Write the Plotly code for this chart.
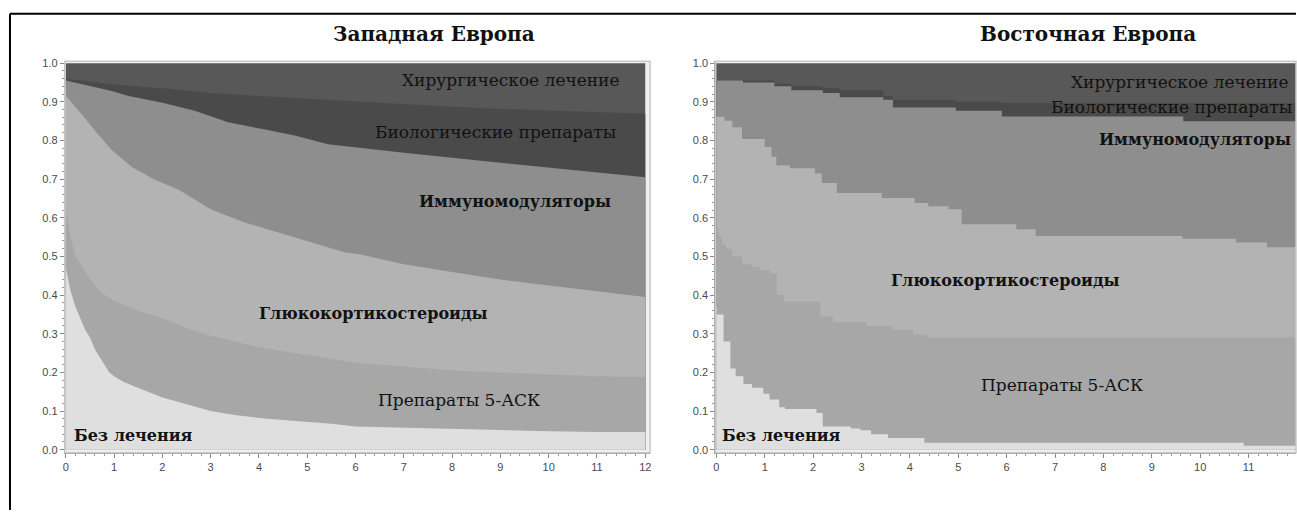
import plotly.graph_objects as go

W, H = 1297, 513

# ---------------- data: upper boundary of each stacked layer (cumulative proportion) -------------
# Western Europe
west_surgery_t = [0, 12]
west_surgery_top = [1.0, 1.0]
west_bio_t = [0, 1, 2, 3, 4, 5, 6, 7, 8, 9, 10, 11, 12]
west_bio_top = [0.96, 0.945, 0.935, 0.923, 0.915, 0.908, 0.9, 0.893, 0.887, 0.882, 0.877, 0.873, 0.87]
west_immuno_t = [0, 0.33, 0.95, 1.3, 1.98, 2.67, 3.36, 4.05, 4.74, 5.43, 6.1, 7, 8, 9, 10, 11, 12]
west_immuno_top = [0.955, 0.945, 0.928, 0.915, 0.898, 0.877, 0.847, 0.83, 0.813, 0.79, 0.78,
                   0.768, 0.755, 0.742, 0.73, 0.717, 0.705]
west_gc_t = [0, 0.33, 0.6, 0.95, 1.36, 1.85, 2.33, 3.0, 3.7, 4.4, 5.08, 5.77, 6.1, 7, 8, 9, 10, 11, 12]
west_gc_top = [0.915, 0.868, 0.826, 0.775, 0.732, 0.698, 0.673, 0.622, 0.588, 0.562, 0.536, 0.511,
               0.505, 0.48, 0.46, 0.44, 0.425, 0.41, 0.395]
west_asa_t = [0, 0.1, 0.2, 0.35, 0.5, 0.7, 1.0, 1.3, 1.6, 2.0, 2.5, 3.0, 3.5, 4.0, 4.5, 5.0, 5.5,
              6.0, 7.0, 8.0, 9.0, 10, 11, 12]
west_asa_top = [0.62, 0.55, 0.5, 0.47, 0.44, 0.41, 0.385, 0.37, 0.355, 0.34, 0.315, 0.295, 0.28,
                0.265, 0.255, 0.245, 0.235, 0.225, 0.215, 0.205, 0.2, 0.195, 0.19, 0.188]
west_none_t = [0, 0.05, 0.1, 0.2, 0.3, 0.4, 0.5, 0.6, 0.7, 0.8, 0.9, 1.0, 1.2, 1.4, 1.6, 1.8, 2.0,
               2.3, 2.6, 3.0, 3.5, 4.0, 4.5, 5.0, 5.5, 6.0, 7.0, 8.0, 9.0, 10, 11, 12]
west_none_top = [0.47, 0.44, 0.41, 0.37, 0.34, 0.31, 0.29, 0.26, 0.24, 0.22, 0.2, 0.19, 0.175, 0.165,
                 0.155, 0.145, 0.135, 0.125, 0.115, 0.1, 0.09, 0.082, 0.077, 0.072, 0.067, 0.06,
                 0.057, 0.053, 0.05, 0.048, 0.046, 0.046]

# Eastern Europe
east_surgery_t = [0, 12]
east_surgery_top = [1.0, 1.0]
east_bio_t = [0, 1.2, 1.55, 2.2, 2.55, 3.45, 3.65, 4.95, 5.9, 12]
east_bio_top = [0.955, 0.947, 0.94, 0.935, 0.93, 0.915, 0.905, 0.9, 0.897, 0.897]
east_immuno_t = [0, 0.55, 1.2, 1.55, 2.2, 2.55, 3.45, 3.65, 4.95, 5.9, 9.65, 12]
east_immuno_top = [0.955, 0.95, 0.94, 0.93, 0.923, 0.912, 0.905, 0.885, 0.877, 0.862, 0.85, 0.85]
east_gc_t = [0, 0.17, 0.33, 0.53, 1.0, 1.14, 1.24, 1.52, 2.04, 2.18, 2.49, 3.42, 4.1, 4.38, 4.8,
             5.07, 6.2, 6.6, 9.63, 10.74, 11.38, 12]
east_gc_top = [0.861, 0.851, 0.834, 0.804, 0.783, 0.758, 0.736, 0.728, 0.715, 0.69, 0.664, 0.651,
               0.638, 0.63, 0.622, 0.583, 0.57, 0.553, 0.546, 0.536, 0.524, 0.524]
east_asa_t = [0, 0.05, 0.12, 0.2, 0.29, 0.33, 0.53, 0.74, 0.91, 1.11, 1.25, 1.4, 2.15, 2.41, 3.1,
              3.65, 4.07, 4.35, 12]
east_asa_top = [0.57, 0.55, 0.53, 0.52, 0.515, 0.5, 0.48, 0.473, 0.464, 0.456, 0.4, 0.383, 0.345,
                0.33, 0.32, 0.31, 0.298, 0.29, 0.29]
east_none_t = [0, 0.01, 0.15, 0.29, 0.4, 0.56, 0.74, 0.97, 1.1, 1.3, 1.42, 1.93, 2.07, 2.2, 2.78,
               2.98, 3.2, 3.55, 4.3, 10.9, 12]
east_none_top = [0.37, 0.35, 0.28, 0.21, 0.19, 0.17, 0.16, 0.145, 0.13, 0.11, 0.105, 0.105, 0.095,
                 0.06, 0.055, 0.05, 0.04, 0.03, 0.018, 0.01, 0.01]

layer_names = ["Хирургическое лечение", "Биологические препараты", "Иммуномодуляторы",
               "Глюкокортикостероиды", "Препараты 5-АСК", "Без лечения"]
layer_colors = ["#585858", "#4a4a4a", "#8e8e8e", "#b3b3b3", "#a7a7a7", "#dfdfdf"]

panel_titles = ["Западная Европа", "Восточная Европа"]
x_ticks = list(range(0, 13))
y_ticks = [0.0, 0.1, 0.2, 0.3, 0.4, 0.5, 0.6, 0.7, 0.8, 0.9, 1.0]

west = [(west_surgery_t, west_surgery_top), (west_bio_t, west_bio_top),
        (west_immuno_t, west_immuno_top), (west_gc_t, west_gc_top),
        (west_asa_t, west_asa_top), (west_none_t, west_none_top)]
east = [(east_surgery_t, east_surgery_top), (east_bio_t, east_bio_top),
        (east_immuno_t, east_immuno_top), (east_gc_t, east_gc_top),
        (east_asa_t, east_asa_top), (east_none_t, east_none_top)]


def px(x):
    return x / W


def py(y):
    return (H - y) / H


fig = go.Figure()
# West: very fine steps appear as smooth curves; East: coarse visible steps
for (xa, ya, panel, shape) in [("x", "y", west, "linear"), ("x2", "y2", east, "hv")]:
    for (t, v), name, col in zip(panel, layer_names, layer_colors):
        fig.add_trace(go.Scatter(
            x=t, y=v, mode="lines", line=dict(width=0, shape=shape, color=col),
            fill="tozeroy", fillcolor=col, name=name, xaxis=xa, yaxis=ya,
            hoverinfo="skip", showlegend=False))

ydom = [py(455), py(58)]
tickfont = dict(family="Liberation Sans, Arial, sans-serif", size=11, color="#4a4a4a")
axis_common = dict(showgrid=False, zeroline=False, showline=True, linecolor="#9a9a9a",
                   linewidth=1, ticks="outside", ticklen=4, tickcolor="#888888",
                   tickfont=tickfont, fixedrange=True)
xminor = dict(dtick=0.2, ticklen=2, tickcolor="#999999", ticks="outside")
yminor = dict(dtick=0.02, ticklen=2, tickcolor="#999999", ticks="outside")

fig.update_layout(
    width=W, height=H, autosize=False,
    margin=dict(l=0, r=0, t=0, b=0),
    paper_bgcolor="white", plot_bgcolor="#efefef",
    xaxis=dict(domain=[px(63), px(649.6)], range=[-0.02, 12.1], tickvals=x_ticks,
               anchor="y", minor=xminor, **axis_common),
    yaxis=dict(domain=ydom, range=[-0.008, 1.005], tickvals=y_ticks, tickformat=".1f",
               anchor="x", minor=yminor, **axis_common),
    xaxis2=dict(domain=[px(715), 1.0], range=[-0.02, 11.98], tickvals=x_ticks,
                anchor="y2", minor=xminor, **axis_common),
    yaxis2=dict(domain=ydom, range=[-0.008, 1.005], tickvals=y_ticks, tickformat=".1f",
                anchor="x2", minor=yminor, **axis_common),
)

# plot frames and outer border
shapes = []
for xr, yr in [("x domain", "y domain"), ("x2 domain", "y2 domain")]:
    shapes.append(dict(type="rect", xref=xr, yref=yr, x0=0, x1=1, y0=0, y1=1,
                       line=dict(color="#c8c8c8", width=1.5), layer="above"))
shapes.append(dict(type="line", xref="paper", yref="paper", x0=px(8), x1=px(8), y0=0, y1=py(10),
                   line=dict(color="black", width=2)))
shapes.append(dict(type="line", xref="paper", yref="paper", x0=px(8), x1=1.0, y0=py(10), y1=py(10),
                   line=dict(color="black", width=2)))
fig.update_layout(shapes=shapes)

serif = "DejaVu Serif, Liberation Serif, serif"
ann = []


def label(text, x, y, anchor="center", bold=False, size=17):
    t = f"<b>{text}</b>" if bold else text
    ann.append(dict(text=t, x=px(x), y=py(y), xref="paper", yref="paper", xanchor=anchor,
                    yanchor="middle", showarrow=False,
                    font=dict(family=serif, size=size, color="#111111")))


label(panel_titles[0], 433, 30, bold=True, size=20)
label(panel_titles[1], 1089, 30, bold=True, size=20)

# West labels
label(layer_names[0], 620, 77, "right")
label(layer_names[1], 617, 130, "right")
label(layer_names[2], 612, 200, "right", bold=True, size=16)
label(layer_names[3], 372, 314, "center", bold=True, size=16)
label(layer_names[4], 458, 401, "center")
label(layer_names[5], 70, 437, "left", bold=True, size=16)

# East labels
label(layer_names[0], 1291, 79, "right")
label(layer_names[1], 1295, 104, "right")
label(layer_names[2], 1294, 137, "right", bold=True, size=16)
label(layer_names[3], 1006, 280, "center", bold=True, size=16)
label(layer_names[4], 1062, 386, "center")
label(layer_names[5], 720, 437, "left", bold=True, size=16)

fig.update_layout(annotations=ann)

fig.write_html("out.html", config={"displayModeBar": False},
               post_script="document.body.style.margin='0px';document.body.style.overflow='hidden';")
